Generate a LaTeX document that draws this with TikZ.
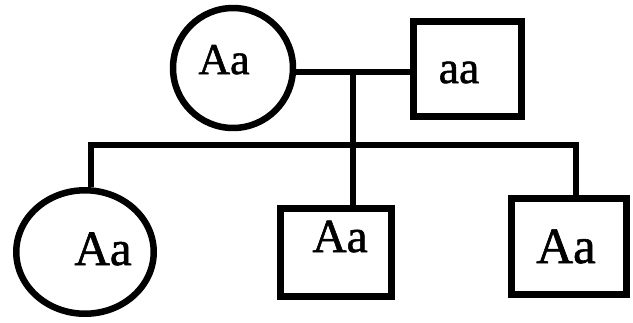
\documentclass[tikz,border=0pt]{standalone}
\usepackage{fontspec}
\setmainfont{Liberation Serif}[FakeBold=1.2]
\usetikzlibrary{shapes.geometric}

\begin{document}
\begin{tikzpicture}[x=0.02cm,y=-0.02cm,
  female/.style={draw,ellipse,line width=3.7pt,inner sep=0pt},
  male/.style={draw,rectangle,line width=3.7pt,inner sep=0pt},
  link/.style={line width=3.7pt},
  gtype/.style={font=\fontsize{#1}{#1}\selectfont,anchor=base,inner sep=0pt}]
\useasboundingbox (0,0) rectangle (633,322);
\node[female,minimum width=2.4cm,minimum height=2.4cm] (mom) at (233,68) {};
\node[male,minimum width=2.17cm,minimum height=1.91cm] (dad) at (467.5,69) {};
\node[female,minimum width=2.75cm,minimum height=2.47cm] (kid1) at (85,252) {};
\node[male,minimum width=2.23cm,minimum height=1.77cm] (kid2) at (336,252.5) {};
\node[male,minimum width=2.31cm,minimum height=1.93cm] (kid3) at (569,246.5) {};
\node[gtype=25] (momg) at (224,74) {Aa};
\node[gtype=26] (dadg) at (459,83) {aa};
\node[gtype=28] (kid1g) at (103,265) {Aa};
\node[gtype=27] (kid2g) at (340,252) {Aa};
\node[gtype=29] (kid3g) at (566,263) {Aa};
\coordinate (wed) at (353,72);
\coordinate (sib) at (353,145);
\coordinate (s1) at (91,145);
\coordinate (s3) at (576,145);
\draw[link] (mom.east |- wed) -- (dad.west |- wed);
\draw[link] (wed) -- (sib);
\draw[link] (s1 |- kid1.north) -- (s1) -- (s3) -- (s3 |- kid3.north);
\draw[link] (sib) -- (sib |- kid2.north);
\end{tikzpicture}
\end{document}
